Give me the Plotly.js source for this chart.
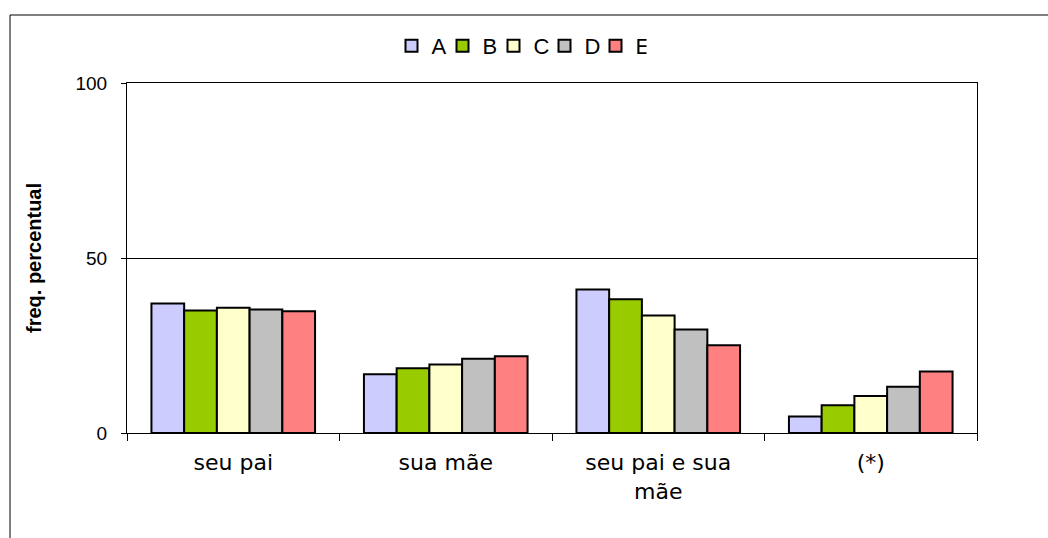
<!DOCTYPE html>
<html>
<head>
<meta charset="utf-8">
<script src="https://cdn.plot.ly/plotly-3.0.1.min.js"></script>
<style>
  html, body { margin: 0; padding: 0; background: #ffffff; }
  #chart { width: 1048px; height: 538px; }
</style>
</head>
<body>
<div id="chart"></div>
<script>
const categories = ["seu pai", "sua mãe", "seu pai e sua<br>mãe", "(*)"];
const seriesNames = ["A", "B", "C", "D", "E"];
const valuesA = [37.0, 16.8, 41.0, 4.7];
const valuesB = [35.0, 18.5, 38.2, 7.9];
const valuesC = [35.8, 19.6, 33.6, 10.6];
const valuesD = [35.3, 21.2, 29.6, 13.2];
const valuesE = [34.8, 21.9, 25.1, 17.6];
const seriesColors = ["#CCCCFF", "#99CC00", "#FFFFCC", "#C0C0C0", "#FF8080"];
const yTicks = [0, 50, 100];

const allValues = [valuesA, valuesB, valuesC, valuesD, valuesE];
const traces = allValues.map((vals, i) => ({
  type: "bar",
  name: seriesNames[i],
  x: categories,
  y: vals,
  marker: { color: seriesColors[i], line: { color: "#000000", width: 2 } },
  hoverinfo: "skip"
}));

const layout = {
  width: 1048,
  height: 538,
  margin: { l: 127, r: 71, t: 83, b: 105 },
  paper_bgcolor: "#ffffff",
  plot_bgcolor: "#ffffff",
  barmode: "group",
  bargap: 0.23,
  bargroupgap: 0,
  showlegend: true,
  legend: {
    orientation: "h",
    xref: "container", yref: "container",
    x: 0.5 - 5 / 1048, xanchor: "center",
    y: 1 - 46 / 538, yanchor: "middle",
    font: { family: "Liberation Sans, Arial, sans-serif", size: 22, color: "#000000" },
    itemwidth: 30,
    entrywidth: 6,
    traceorder: "normal"
  },
  xaxis: {
    type: "category",
    showline: true, linecolor: "#000000", linewidth: 1, mirror: true,
    ticks: "outside", ticklen: 7, tickcolor: "#000000", tickwidth: 1,
    tickson: "boundaries",
    ticklabelstandoff: 10,
    showgrid: false,
    tickfont: { family: "DejaVu Sans, sans-serif", size: 22, color: "#000000" },
    fixedrange: true
  },
  yaxis: {
    range: [0, 100],
    tickvals: yTicks,
    ticktext: yTicks.map(String),
    showline: true, linecolor: "#000000", linewidth: 1, mirror: true,
    ticks: "outside", ticklen: 5, tickcolor: "#000000",
    ticklabelstandoff: 10,
    showgrid: true, gridcolor: "#000000", gridwidth: 1,
    zeroline: false,
    tickfont: { family: "Liberation Sans, Arial, sans-serif", size: 19, color: "#000000" },
    title: {
      text: "freq. percentual",
      font: { family: "Liberation Sans, Arial, sans-serif", size: 20, color: "#000000", weight: "bold" },
      standoff: 28
    },
    fixedrange: true
  },
  shapes: [{
    type: "rect", xref: "paper", yref: "paper",
    x0: (10 - 127) / 850, x1: 1.3,
    y0: -0.6, y1: (433 - 15) / 350,
    line: { color: "#000000", width: 1 },
    fillcolor: "rgba(0,0,0,0)",
    layer: "below"
  }]
};

Plotly.newPlot("chart", traces, layout, { displayModeBar: false, staticPlot: true });
</script>
</body>
</html>
